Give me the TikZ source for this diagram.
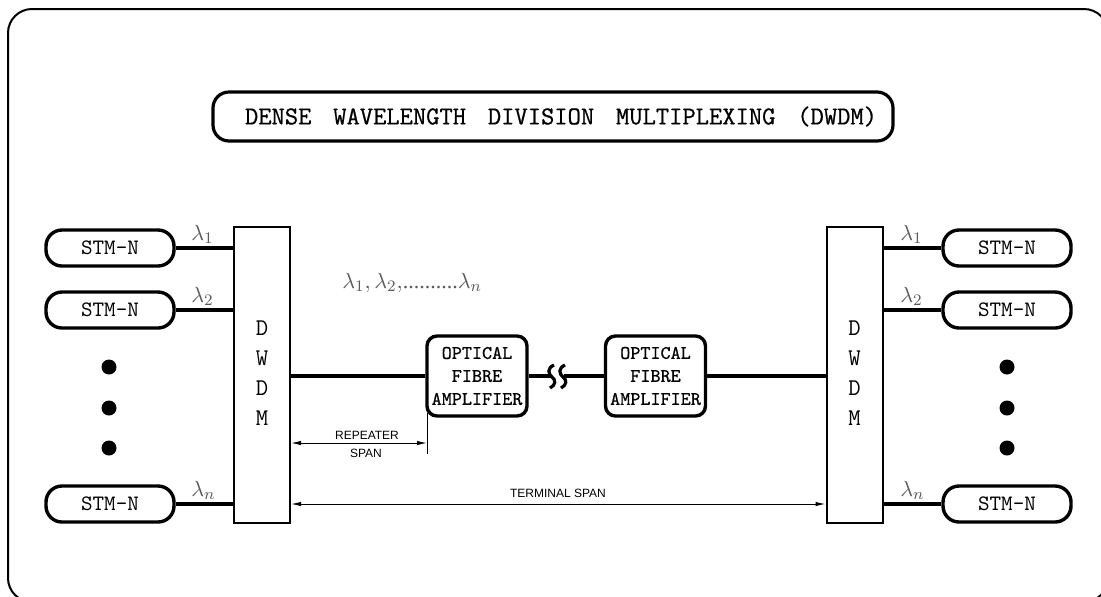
\documentclass[tikz,border=0pt]{standalone}
\usepackage{fontspec}
\setmainfont{Liberation Serif}
\newfontfamily\cadfont{Latin Modern Mono}
\newfontfamily\cadfontb[FakeBold=0.7]{Latin Modern Mono}
\newfontfamily\spanfont{Liberation Sans}
\usetikzlibrary{arrows.meta}
\definecolor{lamgray}{gray}{0.35}
\begin{document}
\begin{tikzpicture}[x=0.5pt,y=-0.5pt,
 stm/.style={draw,line width=1.7pt,rounded corners=8pt,minimum width=64pt,minimum height=18pt,inner sep=0pt,font=\cadfont\fontsize{11}{12}\selectfont},
 mux/.style={draw,line width=1pt,minimum width=28pt,minimum height=148pt,inner sep=0pt},
 amp/.style={draw,line width=1.7pt,rounded corners=5pt,minimum width=50pt,minimum height=40pt,inner sep=0pt,align=center,font=\cadfontb\fontsize{9.6}{11.5}\selectfont},
 sig/.style={line width=1.7pt},
 lam/.style={inner sep=0pt,anchor=south west,text=lamgray,font=\fontsize{11}{13}\selectfont},
 dimline/.style={line width=0.5pt,{Latex[length=5pt,width=2.2pt]}-{Latex[length=5pt,width=2.2pt]}},
 dimtxt/.style={font=\spanfont\fontsize{6}{7}\selectfont,inner sep=0pt},
 bigdot/.style={circle,fill,inner sep=0pt,minimum size=7.5pt},
 letter/.style={font=\cadfont\fontsize{12}{13}\selectfont,inner sep=0pt}
]
\useasboundingbox (0,0) rectangle (1101,596);
\begin{scope}
\clip (0,0) rectangle (1101,596);
\draw[line width=1pt,rounded corners=12pt] (8,9) rectangle (1108,602);
\end{scope}

% title
\node[draw,line width=1.6pt,rounded corners=8pt,minimum width=340pt,minimum height=24.5pt,inner sep=0pt] (title) at (553,116.5)
 {\hspace*{8pt}\makebox[316pt]{\cadfontb\fontsize{12.9}{14}\selectfont DENSE\hfill WAVELENGTH\hfill DIVISION\hfill MULTIPLEXING\hfill (DWDM)}};

% DWDM boxes
\node[mux] (dL) at (262,375) {};
\node[mux] (dR) at (854.5,375) {};
\foreach \c/\yy/\n in {D/328/1,W/358/2,D/388/3,M/418/4}{
  \node[letter] (dLl\n) at (262,\yy) {\c};
  \node[letter] (dRl\n) at (854.5,\yy) {\c};
}

% STM-N boxes
\node[stm] (sL1) at (110,248) {STM–N};
\node[stm] (sL2) at (110,310) {STM–N};
\node[stm] (sLn) at (110,504) {STM–N};
\node[stm] (sR1) at (1007,248) {STM–N};
\node[stm] (sR2) at (1007,310) {STM–N};
\node[stm] (sRn) at (1007,504) {STM–N};

% dots
\foreach \yy/\n in {367/1,408/2,448/3}{
  \node[bigdot] (dotL\n) at (109,\yy) {};
  \node[bigdot] (dotR\n) at (1007,\yy) {};
}

% tributary lines
\draw[sig] (sL1.east) -- (sL1.east -| dL.west);
\draw[sig] (sL2.east) -- (sL2.east -| dL.west);
\draw[sig] (sLn.east) -- (sLn.east -| dL.west);
\draw[sig] (sR1.west -| dR.east) -- (sR1.west);
\draw[sig] (sR2.west -| dR.east) -- (sR2.west);
\draw[sig] (sRn.west -| dR.east) -- (sRn.west);

% lambda labels
\node[lam] (lL1) at (191,244) {$\lambda_1$};
\node[lam] (lL2) at (191,306) {$\lambda_2$};
\node[lam] (lLn) at (191,500) {$\lambda_n$};
\node[lam] (lR1) at (900,244) {$\lambda_1$};
\node[lam] (lR2) at (900,306) {$\lambda_2$};
\node[lam] (lRn) at (900,500) {$\lambda_n$};
\node[lam,anchor=west] (lmain) at (342,283) {$\lambda_1,\lambda_2,$..........$\lambda_n$};

% amplifiers
\node[amp] (amp1) at (477,376) {OPTICAL\\FIBRE\\AMPLIFIER};
\node[amp] (amp2) at (655.5,376) {OPTICAL\\FIBRE\\AMPLIFIER};

% main line
\coordinate (brkA) at (551,376);
\coordinate (brkB) at (564,376);
\draw[sig] (amp1.west -| dL.east) -- (amp1.west);
\draw[sig] (amp1.east) -- (brkA);
\draw[sig] (brkB) -- (amp2.west);
\draw[sig] (amp2.east) -- (amp2.east -| dR.west);
\draw[line width=1.6pt] (554,365) .. controls (547,368) and (548,374) .. (552,377) .. controls (556,380) and (556,385) .. (550,388);
\draw[line width=1.6pt] (565,365) .. controls (558,368) and (559,374) .. (563,377) .. controls (567,380) and (567,385) .. (561,388);

% repeater span
\coordinate (rsTop) at (427,413);
\coordinate (rsBot) at (427,454);
\coordinate (rsR) at (427,443);
\draw[line width=0.5pt] (rsTop) -- (rsBot);
\draw[dimline] (rsR -| dL.east) -- (rsR);
\node[dimtxt] (rs1) at (367,435) {REPEATER};
\node[dimtxt] (rs2) at (366,453) {SPAN};

% terminal span
\coordinate (tsL) at (291,504);
\draw[dimline] (tsL -| dL.east) -- (tsL -| dR.west);
\node[dimtxt] (ts) at (558,493) {TERMINAL SPAN};
\end{tikzpicture}
\end{document}
